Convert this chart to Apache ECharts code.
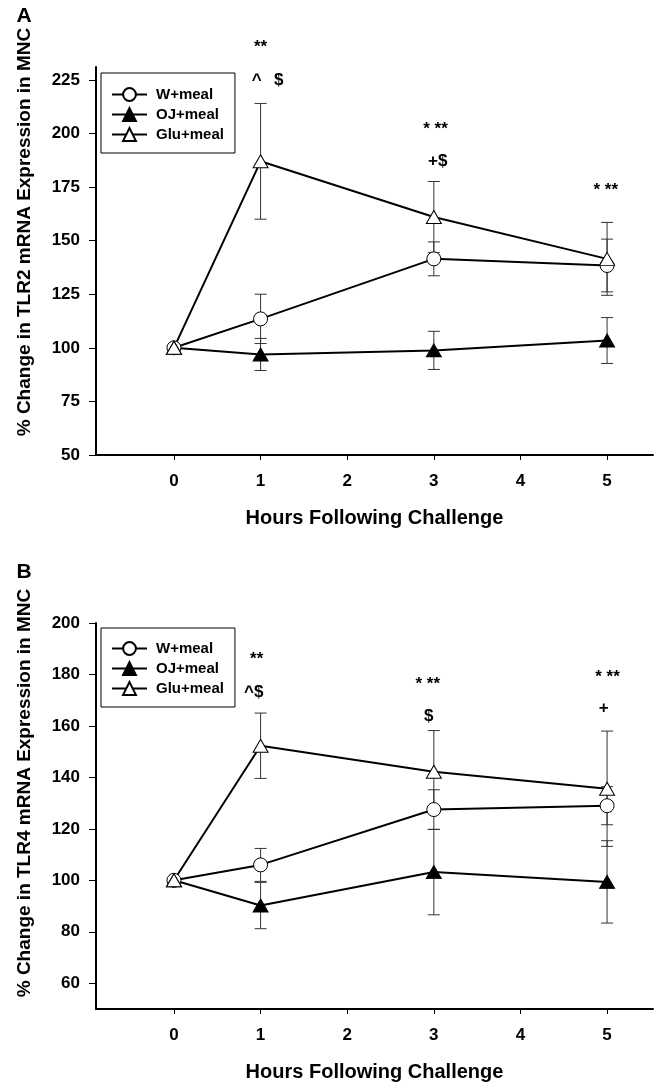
<!DOCTYPE html>
<html><head><meta charset="utf-8">
<script src="https://cdn.jsdelivr.net/npm/echarts@6/dist/echarts.min.js"></script>
<style>html,body{margin:0;padding:0;background:#fff}#c{width:658px;height:1083px}</style>
</head><body><div id="c"></div>
<script>
const hours = [0, 1, 3, 5];
const xTicks = [0, 1, 2, 3, 4, 5];
const yTicksA = [50, 75, 100, 125, 150, 175, 200, 225];
const yTicksB = [60, 80, 100, 120, 140, 160, 180, 200];
const seriesNames = ['W+meal', 'OJ+meal', 'Glu+meal'];
// Panel A: TLR2
const tlr2W = [100, 113.5, 141.5, 138.4];
const tlr2WErr = [0, 11.5, 7.9, 12.3];
const tlr2OJ = [100, 96.9, 98.8, 103.4];
const tlr2OJErr = [0, 7.5, 8.9, 10.7];
const tlr2Glu = [100, 187, 161, 141.5];
const tlr2GluErr = [0, 27, 16.6, 17];
// Panel B: TLR4
const tlr4W = [100, 106, 127.5, 129];
const tlr4WErr = [0, 6.4, 7.7, 7.4];
const tlr4OJ = [100, 90.2, 103.2, 99.4];
const tlr4OJErr = [0, 9, 16.6, 16];
const tlr4Glu = [100, 152.3, 142.2, 135.6];
const tlr4GluErr = [0, 12.7, 16, 22.4];
// significance notes: [hour, value, text]
const notesA = [[1, 240, '**'], [0.955, 224.6, '^'], [1.21, 224.6, '$'], [3.02, 201.7, '* **'], [3.045, 186.9, '+$'], [4.985, 173.7, '* **']];
const notesB = [[0.955, 186, '**'], [0.92, 173.2, '^$'], [2.93, 176.3, '* **'], [2.94, 163.6, '$'], [5.005, 179, '* **'], [4.96, 167, '+']];

const FONT = '"Liberation Sans", Arial, sans-serif';
const chart = echarts.init(document.getElementById('c'), null, {renderer: 'canvas'});

function lineSeries(name, vals, symbol, fill, gi) {
  return {
    type: 'line', name: name, xAxisIndex: gi, yAxisIndex: gi,
    data: hours.map((h, i) => [h, vals[i]]),
    symbol: symbol, symbolSize: symbol === 'circle' ? 14 : [15, 13],
    showAllSymbol: true,
    lineStyle: {color: '#000', width: 2},
    itemStyle: {color: fill, borderColor: '#000', borderWidth: 1},
    emphasis: {disabled: true}, z: 3, animation: false
  };
}
function errSeries(vals, errs, gi) {
  const data = [];
  hours.forEach((h, i) => { if (errs[i] > 0) data.push([h, vals[i] - errs[i], vals[i] + errs[i]]); });
  return {
    type: 'custom', xAxisIndex: gi, yAxisIndex: gi, data: data, z: 2, silent: true, animation: false,
    renderItem: function (params, api) {
      const x = api.value(0);
      const lo = api.coord([x, api.value(1)]);
      const hi = api.coord([x, api.value(2)]);
      const w = 6;
      const st = {stroke: '#333', lineWidth: 1};
      return {type: 'group', children: [
        {type: 'line', shape: {x1: lo[0], y1: lo[1], x2: hi[0], y2: hi[1]}, style: st},
        {type: 'line', shape: {x1: lo[0] - w, y1: lo[1], x2: lo[0] + w, y2: lo[1]}, style: st},
        {type: 'line', shape: {x1: hi[0] - w, y1: hi[1], x2: hi[0] + w, y2: hi[1]}, style: st}
      ]};
    }
  };
}
function noteSeries(notes, gi) {
  return {
    type: 'custom', xAxisIndex: gi, yAxisIndex: gi, data: notes.map(n => [n[0], n[1]]), z: 5, silent: true, animation: false,
    renderItem: function (params, api) {
      const c = api.coord([api.value(0), api.value(1)]);
      const t = notes[params.dataIndex][2];
      return {type: 'text', x: c[0], y: c[1], style: {text: t, font: 'bold 17px ' + FONT, fill: '#000', align: 'center', verticalAlign: 'middle'}};
    }
  };
}
function xAxisCfg(gi) {
  return {
    type: 'value', gridIndex: gi, min: -0.9, max: 5.53,
    axisLine: {onZero: false, lineStyle: {color: '#000', width: 2}},
    axisTick: {show: true, length: 5, lineStyle: {color: '#000', width: 1}, customValues: xTicks},
    axisLabel: {customValues: xTicks, color: '#000', fontSize: 17, fontWeight: 'bold', fontFamily: FONT, margin: 18},
    splitLine: {show: false},
    name: 'Hours Following Challenge', nameLocation: 'middle', nameGap: 53,
    nameTextStyle: {color: '#000', fontSize: 20, fontWeight: 'bold', fontFamily: FONT}
  };
}
function yAxisCfg(gi, max, ticks) {
  return {
    type: 'value', gridIndex: gi, min: 50, max: max,
    axisLine: {show: true, onZero: false, lineStyle: {color: '#000', width: 2}},
    axisTick: {show: true, length: 7, lineStyle: {color: '#000', width: 1}, customValues: ticks},
    axisLabel: {customValues: ticks, color: '#000', fontSize: 17, fontWeight: 'bold', fontFamily: FONT, margin: 16},
    splitLine: {show: false}
  };
}
function legendCfg(top, padTop) {
  return {
    data: seriesNames, orient: 'vertical', left: 101, top: top,
    itemWidth: 35, itemHeight: 16, itemGap: 5, selectedMode: false,
    padding: [padTop, 11, 11, 10], borderColor: '#000', borderWidth: 1,
    textStyle: {color: '#000', fontSize: 15, fontWeight: 'bold', fontFamily: FONT, padding: [0, 0, 0, 4]}
  };
}
function ytitle(text, y) {
  return {type: 'text', x: 25, y: y, rotation: Math.PI / 2,
    style: {text: text, font: 'bold 19px ' + FONT, fill: '#000', align: 'center', verticalAlign: 'middle'}};
}
function letter(text, y) {
  return {type: 'text', x: 24, y: y, style: {text: text, font: 'bold 21px ' + FONT, fill: '#000', align: 'center', verticalAlign: 'middle'}};
}

chart.setOption({
  animation: false,
  backgroundColor: '#fff',
  grid: [
    {left: 96, top: 67, width: 557, height: 388},
    {left: 96, top: 623, width: 557, height: 388}
  ],
  xAxis: [xAxisCfg(0), xAxisCfg(1)],
  yAxis: [yAxisCfg(0, 231, yTicksA), yAxisCfg(1, 200, yTicksB)],
  legend: [legendCfg(73, 14), legendCfg(628, 13)],
  graphic: [
    letter('A', 16), letter('B', 572),
    ytitle('% Change in TLR2 mRNA Expression in MNC', 232),
    ytitle('% Change in TLR4 mRNA Expression in MNC', 793)
  ],
  series: [
    errSeries(tlr2W, tlr2WErr, 0), lineSeries(seriesNames[0], tlr2W, 'circle', '#fff', 0),
    errSeries(tlr2OJ, tlr2OJErr, 0), lineSeries(seriesNames[1], tlr2OJ, 'triangle', '#000', 0),
    errSeries(tlr2Glu, tlr2GluErr, 0), lineSeries(seriesNames[2], tlr2Glu, 'triangle', '#fff', 0),
    noteSeries(notesA, 0),
    errSeries(tlr4W, tlr4WErr, 1), lineSeries(seriesNames[0], tlr4W, 'circle', '#fff', 1),
    errSeries(tlr4OJ, tlr4OJErr, 1), lineSeries(seriesNames[1], tlr4OJ, 'triangle', '#000', 1),
    errSeries(tlr4Glu, tlr4GluErr, 1), lineSeries(seriesNames[2], tlr4Glu, 'triangle', '#fff', 1),
    noteSeries(notesB, 1)
  ]
});
</script></body></html>
